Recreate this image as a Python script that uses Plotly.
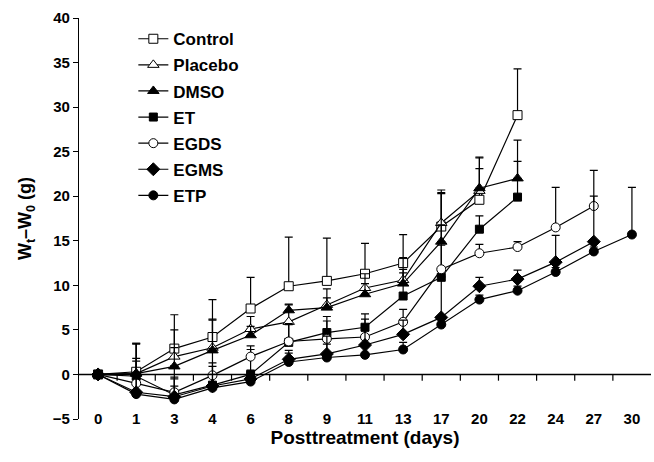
import plotly.graph_objects as go

days = ["0", "1", "3", "4", "6", "8", "9", "11", "13", "17", "20", "22", "24", "27", "30"]

control = [0, 0.3, 2.9, 4.2, 7.4, 9.9, 10.5, 11.3, 12.5, 16.6, 19.6, 29.1]
control_err = [0, 3.2, 3.8, 4.2, 3.5, 5.5, 4.8, 3.4, 3.2, 4.1, 4.7, 5.2]
placebo = [0, 0.1, 2.0, 3.0, 5.1, 5.9, 7.8, 9.7, 10.6, 17.0, 20.6]
placebo_err = [0, 3.3, 3.0, 3.2, 1.4, 2.0, 1.8, 1.6, 2.5, 3.3, 2.5]
dmso = [0, 0.1, 0.9, 2.7, 4.4, 7.2, 7.5, 9.0, 10.2, 14.9, 20.9, 22.0]
dmso_err = [0, 3.4, 2.1, 3.4, 1.0, 0.6, 1.1, 1.2, 1.2, 5.5, 3.5, 4.3]
et = [0, -0.2, -2.3, -1.2, 0.0, 3.6, 4.7, 5.3, 8.8, 10.9, 16.3, 19.9]
et_err = [0, 2.0, 2.0, 2.5, 2.8, 2.0, 1.3, 1.5, 3.0, 3.6, 1.5, 4.0]
egds = [0, -1.0, -2.0, -0.1, 2.0, 3.7, 4.0, 4.2, 5.9, 11.8, 13.6, 14.3, 16.5, 18.9]
egds_err = [0, 2.5, 3.0, 3.0, 1.2, 2.0, 2.5, 2.0, 1.4, 5.0, 1.0, 0.6, 4.5, 4.0]
egms = [0, -2.0, -2.5, -1.3, -0.5, 1.7, 2.3, 3.3, 4.5, 6.4, 9.9, 10.7, 12.6, 14.9]
egms_err = [0, 1.5, 2.0, 2.2, 1.0, 1.0, 2.0, 1.6, 1.6, 4.6, 1.0, 1.0, 3.0, 5.1]
etp = [0, -2.2, -2.8, -1.5, -0.8, 1.4, 1.9, 2.2, 2.8, 5.6, 8.4, 9.4, 11.5, 13.8, 15.7]
etp_err = [0, 2.0, 1.5, 1.5, 1.0, 1.0, 1.5, 1.2, 0.8, 0.6, 0.5, 0.5, 0.5, 0.5, 5.3]

series = [
    ("Control", control, control_err, "square", "white", 9),
    ("Placebo", placebo, placebo_err, "triangle-up", "white", 10),
    ("DMSO", dmso, dmso_err, "triangle-up", "black", 10),
    ("ET", et, et_err, "square", "black", 8),
    ("EGDS", egds, egds_err, "circle", "white", 9),
    ("EGMS", egms, egms_err, "diamond", "black", 10),
    ("ETP", etp, etp_err, "circle", "black", 9),
]

FONT = "Liberation Sans, Arial, sans-serif"
Y_MIN, Y_MAX = -5, 40
TICK_DEPTH = 0.7  # y units: length of category-boundary ticks under the zero line

fig = go.Figure()
for i, (name, vals, err, sym, fill, size) in enumerate(series):
    x = list(range(len(vals)))
    fig.add_trace(go.Scatter(
        x=x, y=vals, name=name, mode="lines+markers",
        legendgroup=name,
        line=dict(color="black", width=1.2),
        marker=dict(symbol=sym, color=fill, size=size, line=dict(color="black", width=1)),
        error_y=dict(type="data", symmetric=False, array=err, arrayminus=[0] * len(err),
                     color="black", thickness=1.2, width=4),
    ))

n = len(days)
# zero-level axis line and category-boundary ticks (axis decoration)
fig.add_shape(type="line", xref="paper", yref="y", x0=0, x1=1, y0=0, y1=0,
              line=dict(color="black", width=1.5), layer="above")
for k in range(n - 1):
    fig.add_shape(type="line", xref="x", yref="y", x0=k + 0.5, x1=k + 0.5,
                  y0=0, y1=-TICK_DEPTH, line=dict(color="black", width=1.2), layer="above")

fig.update_layout(
    width=654, height=462,
    margin=dict(l=79, r=3, t=18, b=43),
    paper_bgcolor="white", plot_bgcolor="white",
    font=dict(family=FONT, color="black", size=15, weight="bold"),
    showlegend=True,
    legend=dict(x=0.095, y=0.992, xanchor="left", yanchor="top",
                font=dict(family=FONT, size=17, weight="bold", color="black"),
                bgcolor="rgba(0,0,0,0)", tracegroupgap=1, traceorder="grouped"),
    xaxis=dict(range=[-0.5, n - 0.5], tickmode="array", tickvals=list(range(n)), ticktext=days,
               showline=False, ticks="", showgrid=False, zeroline=False,
               ticklabelstandoff=-11,
               tickfont=dict(family=FONT, size=15, weight="bold"),
               title=dict(text="Posttreatment (days)", standoff=4,
                          font=dict(family=FONT, size=19, weight="bold"))),
    yaxis=dict(range=[Y_MIN, Y_MAX], dtick=5, tick0=0, showline=True, linecolor="black", linewidth=1.2,
               ticks="outside", ticklen=5, tickcolor="black", showgrid=False,
               zeroline=False,
               tickfont=dict(family=FONT, size=15, weight="bold"),
               title=dict(text="W<sub>t</sub>–W<sub>0</sub> (g)", standoff=16,
                          font=dict(family=FONT, size=18, weight="bold"))),
)

fig.write_html("out.html", config={"displayModeBar": False},
               post_script="document.body.style.margin='0px';")
